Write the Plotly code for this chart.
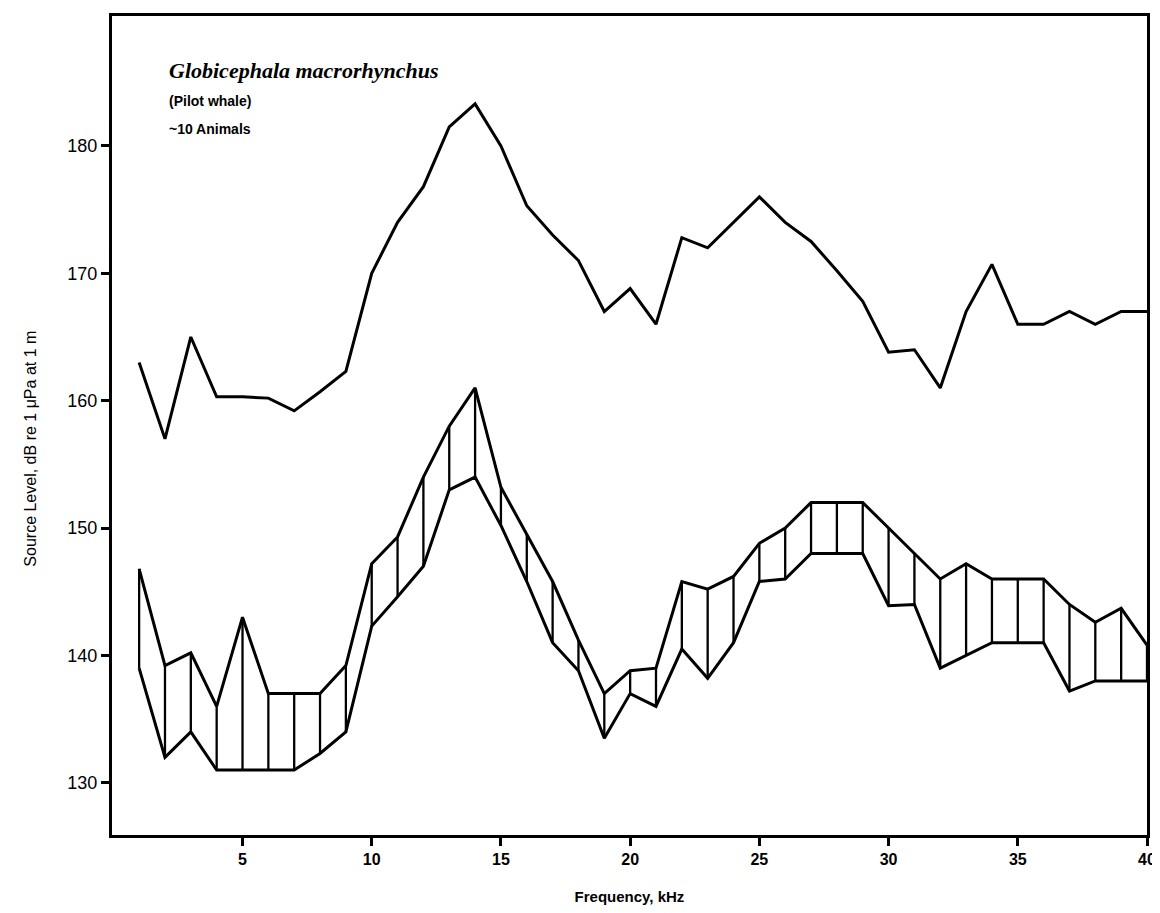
import plotly.graph_objects as go

freq_khz = list(range(1, 41))

peak_level = [163, 157, 165, 160.3, 160.3, 160.2, 159.2, 160.7, 162.3, 170,
              174, 176.8, 181.5, 183.3, 180, 175.3, 173, 171, 167, 168.8,
              166, 172.8, 172, 174, 176, 174, 172.5, 170.2, 167.8, 163.8,
              164, 161, 167, 170.7, 166, 166, 167, 166, 167, 167]

band_upper = [146.8, 139.2, 140.2, 136, 143, 137, 137, 137, 139.2, 147.2,
              149.3, 154, 158, 161, 153.2, 149.5, 145.8, 141.2, 137, 138.8,
              139, 145.8, 145.2, 146.2, 148.8, 150, 152, 152, 152, 150,
              148, 146, 147.2, 146, 146, 146, 144, 142.6, 143.7, 140.8]

band_lower = [139, 132, 134, 131, 131, 131, 131, 132.3, 134, 142.3,
              144.6, 147, 153, 154, 150.2, 145.8, 141, 138.8, 133.5, 137,
              136, 140.5, 138.2, 141, 145.8, 146, 148, 148, 148, 143.9,
              144, 139, 140, 141, 141, 141, 137.2, 138, 138, 138]

x_ticks = [5, 10, 15, 20, 25, 30, 35, 40]
y_ticks = [130, 140, 150, 160, 170, 180]

title_lines = ["<i>Globicephala macrorhynchus</i>", "(Pilot whale)", "~10 Animals"]
x_title = "Frequency, kHz"
y_title = "Source Level, dB re 1 \u03bcPa at 1 m"

LW = 3
fig = go.Figure()

# vertical hatch segments between band edges
vx, vy = [], []
for f, lo, hi in zip(freq_khz, band_lower, band_upper):
    vx += [f, f, None]
    vy += [lo, hi, None]
fig.add_trace(go.Scatter(x=vx, y=vy, mode="lines",
                         line=dict(color="black", width=2.3), hoverinfo="skip"))

fig.add_trace(go.Scatter(x=freq_khz, y=band_upper, mode="lines",
                         line=dict(color="black", width=LW)))
fig.add_trace(go.Scatter(x=freq_khz, y=band_lower, mode="lines",
                         line=dict(color="black", width=LW)))
fig.add_trace(go.Scatter(x=freq_khz, y=peak_level, mode="lines",
                         line=dict(color="black", width=LW)))

font_fam = "Liberation Sans, Arial, sans-serif"

fig.update_layout(
    width=1152, height=897,
    margin=dict(l=104, r=13, t=8, b=70),
    paper_bgcolor="white", plot_bgcolor="white",
    showlegend=False,
    font=dict(family=font_fam, color="black", size=16),
)
fig.update_xaxes(
    range=[-0.05, 40], tickvals=x_ticks, ticktext=["<b>%d</b>" % t for t in x_ticks],
    showgrid=False, zeroline=False, automargin=False,
    showline=True, linewidth=3, linecolor="black", mirror=True,
    ticks="outside", ticklen=8, tickwidth=2.5, tickcolor="black",
    tickfont=dict(family=font_fam, size=16, color="black"),
    title=dict(text="<b>" + x_title + "</b>", font=dict(size=15), standoff=30),
)
fig.update_yaxes(
    range=[125.9, 190.2], tickvals=y_ticks, ticktext=[str(t) for t in y_ticks],
    showgrid=False, zeroline=False, automargin=False,
    showline=True, linewidth=3, linecolor="black", mirror=True,
    ticks="outside", ticklen=8, tickwidth=2.5, tickcolor="black",
    tickfont=dict(family=font_fam, size=18, color="black"),
)

fig.add_annotation(x=-0.079, y=0.472, xref="paper", yref="paper", text=y_title,
                   textangle=-90, showarrow=False, xanchor="center", yanchor="middle",
                   font=dict(family=font_fam, size=16, color="black"))

ys = [0.933, 0.896, 0.862]
fonts = [dict(family="Liberation Serif, Times New Roman, serif", size=22),
         dict(family=font_fam, size=14), dict(family=font_fam, size=14)]
for txt, yy, fnt in zip(title_lines, ys, fonts):
    label = "<b>" + txt + "</b>"
    fig.add_annotation(x=0.053, y=yy, xref="paper", yref="paper", text=label,
                       showarrow=False, xanchor="left", yanchor="middle",
                       font=dict(color="black", **fnt))

fig.write_html("out.html")
